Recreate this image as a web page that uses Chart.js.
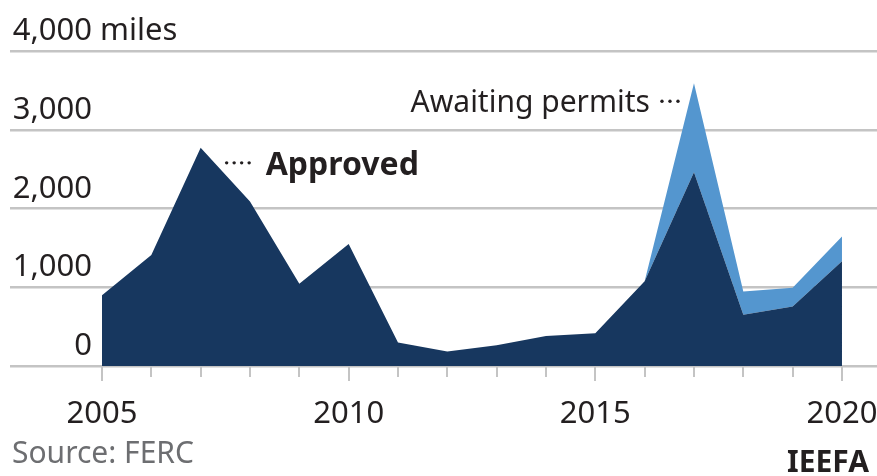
<!DOCTYPE html>
<html>
<head>
<meta charset="utf-8">
<script src="https://cdn.jsdelivr.net/npm/chart.js@4"></script>
<style>
  html, body { margin: 0; padding: 0; background: #fff; }
  #wrap { position: relative; width: 877px; height: 476px; }
</style>
</head>
<body>
<div id="wrap"><canvas id="myChart"></canvas></div>
<script>
// data (miles)
const years = [2005, 2006, 2007, 2008, 2009, 2010, 2011, 2012, 2013, 2014, 2015, 2016, 2017, 2018, 2019, 2020];
const approved = [900, 1410, 2770, 2090, 1045, 1550, 300, 185, 265, 380, 415, 1075, 2460, 650, 755, 1330];
const awaiting = [0, 0, 0, 0, 0, 0, 0, 0, 0, 0, 0, 0, 1130, 295, 240, 315];
const seriesNames = ["Approved", "Awaiting permits"];
const yTicks = [0, 1000, 2000, 3000, 4000];
const xLabelYears = [2005, 2010, 2015, 2020];
const unitLabel = "miles";

const navy = "#17375f";
const lightBlue = "#5496cf";
const grey = "#c4c4c4";
const textColor = "#231f20";
const font = '"Noto Sans", "Open Sans", sans-serif';

function toPoints(vals) {
    return years.map((yr, i) => ({ x: yr, y: vals[i] }));
}

// y labels sit above their grid lines, plus the annotations and footer
const labelPlugin = {
    id: 'labels',
    afterDraw(chart) {
        const ctx = chart.ctx;
        const x = chart.scales.x;
        const y = chart.scales.y;
        ctx.save();
        ctx.fillStyle = textColor;
        ctx.textBaseline = 'alphabetic';
        ctx.font = '31px ' + font;
        yTicks.forEach(v => {
            const py = y.getPixelForValue(v);
            ctx.textAlign = 'right';
            ctx.fillText(v.toLocaleString('en-US'), 92, py - 11);
            if (v === yTicks[yTicks.length - 1]) {
                ctx.textAlign = 'left';
                ctx.fillText(' ' + unitLabel, 92, py - 11);
            }
        });

        // longer tick marks under the labelled years
        ctx.strokeStyle = grey;
        ctx.lineWidth = 2;
        xLabelYears.forEach(yr => {
            const px = Math.round(x.getPixelForValue(yr));
            ctx.beginPath();
            ctx.moveTo(px, y.bottom);
            ctx.lineTo(px, y.bottom + 15);
            ctx.stroke();
        });

        // "···· Approved" next to the 2007 peak
        const pk = x.getPixelForValue(2007);
        const pky = y.getPixelForValue(approved[2]);
        for (let i = 0; i < 4; i++) {
            ctx.beginPath();
            ctx.arc(pk + 26 + i * 7.5, pky + 15, 1.7, 0, Math.PI * 2);
            ctx.fill();
        }
        ctx.font = 'bold 32px ' + font;
        ctx.textAlign = 'left';
        ctx.fillText(seriesNames[0], pk + 65, pky + 27);

        // "Awaiting permits ···" next to the 2017 peak
        const ak = x.getPixelForValue(2017);
        const aky = y.getPixelForValue(approved[12] + awaiting[12]);
        for (let i = 0; i < 3; i++) {
            ctx.beginPath();
            ctx.arc(ak - 16 - i * 8, aky + 18, 1.7, 0, Math.PI * 2);
            ctx.fill();
        }
        ctx.font = '30px ' + font;
        ctx.textAlign = 'right';
        ctx.fillText(seriesNames[1], ak - 44, aky + 29);

        // footer
        ctx.font = '30px ' + font;
        ctx.textAlign = 'left';
        ctx.fillStyle = '#6d6e71';
        ctx.fillText('Source: FERC', 12, 463);
        ctx.font = 'bold 30px ' + font;
        ctx.textAlign = 'right';
        ctx.fillStyle = textColor;
        ctx.fillText('IEEFA', 869, 472);
        ctx.restore();
    }
};

new Chart("myChart", {
    type: "line",
    data: {
        datasets: [{
            label: seriesNames[0],
            data: toPoints(approved),
            backgroundColor: navy,
            borderWidth: 0,
            pointRadius: 0,
            fill: 'origin',
            tension: 0
        }, {
            label: seriesNames[1],
            data: toPoints(awaiting),
            backgroundColor: lightBlue,
            borderWidth: 0,
            pointRadius: 0,
            fill: '-1',
            tension: 0
        }]
    },
    options: {
        responsive: true,
        maintainAspectRatio: false,
        animation: false,
        layout: { padding: { top: 51, left: 0, right: 0, bottom: 0 } },
        plugins: {
            legend: { display: false },
            tooltip: { enabled: false }
        },
        scales: {
            x: {
                type: 'linear',
                min: 2005,
                max: 2020.71,
                afterFit: s => {
                    s.height = 110;
                    s.paddingLeft = 0;
                    s.paddingRight = 0;
                },
                border: { display: false },
                grid: {
                    drawOnChartArea: false,
                    drawTicks: true,
                    tickLength: 11,
                    color: grey,
                    lineWidth: 2
                },
                ticks: {
                    stepSize: 1,
                    includeBounds: false,
                    autoSkip: false,
                    maxRotation: 0,
                    padding: 19,
                    color: textColor,
                    font: { family: font, size: 31 },
                    callback: v => xLabelYears.includes(v) ? String(v) : ''
                }
            },
            y: {
                stacked: true,
                min: 0,
                max: 4000,
                afterFit: s => {
                    s.width = 102;
                    s.paddingTop = 0;
                    s.paddingBottom = 0;
                },
                border: { display: false },
                grid: {
                    color: grey,
                    lineWidth: 2.5,
                    drawTicks: true,
                    tickLength: 92
                },
                ticks: { stepSize: 1000, display: false }
            }
        }
    },
    plugins: [labelPlugin]
});
</script>
</body>
</html>
